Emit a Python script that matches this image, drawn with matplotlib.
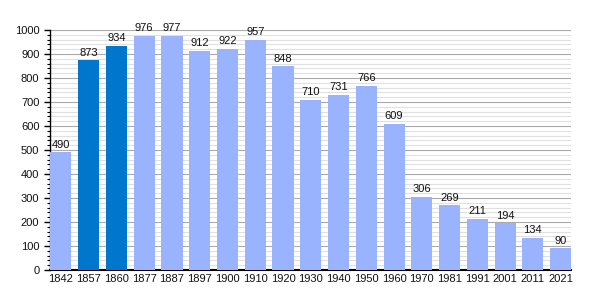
import numpy as np
import matplotlib
matplotlib.use("Agg")
import matplotlib.pyplot as plt
from matplotlib.ticker import MultipleLocator

years = ["1842", "1857", "1860", "1877", "1887", "1897", "1900", "1910", "1920", "1930",
         "1940", "1950", "1960", "1970", "1981", "1991", "2001", "2011", "2021"]
population = [490, 873, 934, 976, 977, 912, 922, 957, 848, 710,
              731, 766, 609, 306, 269, 211, 194, 134, 90]
highlight = ["1857", "1860"]

plt.rcParams['font.family'] = ['Liberation Sans', 'DejaVu Sans']
plt.rcParams['font.size'] = 8

fig = plt.figure(figsize=(6, 3), dpi=100)
ax = fig.add_axes([0.083, 0.1, 0.869, 0.8])

colors = ["#0077cc" if y in highlight else "#99b3ff" for y in years]
x = np.arange(len(years))
ax.bar(x, population, width=0.76, color=colors, zorder=3)

for xi, v in zip(x, population):
    ax.text(xi, v + 12, str(v), ha='center', va='bottom', fontsize=8, color='#111111', zorder=4)

ax.set_xlim(-0.4, len(years) - 1 + 0.38)
ax.set_ylim(0, 1000)
ax.set_xticks(x)
ax.set_xticklabels(years, color='#111111')
ax.yaxis.set_major_locator(MultipleLocator(100))
ax.yaxis.set_minor_locator(MultipleLocator(20))
ax.grid(axis='y', which='major', color='#aaaaaa', linewidth=0.8, zorder=0)
ax.grid(axis='y', which='minor', color='#e0e0e0', linewidth=0.8, zorder=0)
ax.tick_params(axis='x', length=0, pad=3)
ax.tick_params(axis='y', which='major', length=4, width=1, labelcolor='#111111')
ax.tick_params(axis='y', which='minor', length=2, width=0.8)
for s in ['top', 'right']:
    ax.spines[s].set_visible(False)
ax.spines['left'].set_linewidth(1)
ax.spines['bottom'].set_linewidth(1.5)
ax.set_axisbelow(True)

fig.savefig("out.png", dpi=100)
